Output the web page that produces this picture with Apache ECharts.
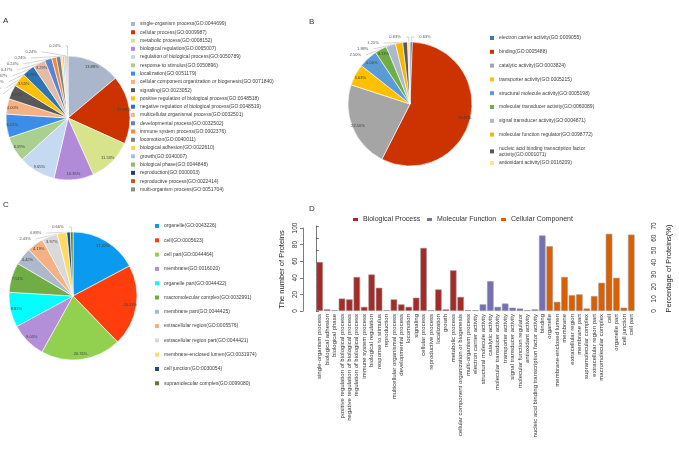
<!DOCTYPE html>
<html><head><meta charset="utf-8">
<script src="https://cdn.jsdelivr.net/npm/echarts@6/dist/echarts.min.js"></script>
<style>html,body{margin:0;padding:0;background:#fff}#c{width:679px;height:452px}</style>
</head><body><div id="c"></div>
<script>
const FONT = '"Liberation Sans", Arial, sans-serif';

// ---- Panel A: Biological Process pie ----
const pieANames = [
  'single-organism process(GO:0044699)','cellular process(GO:0009987)','metabolic process(GO:0008152)',
  'biological regulation(GO:0065007)','regulation of biological process(GO:0050789)','response to stimulus(GO:0050896)',
  'localization(GO:0051179)','cellular component organization or biogenesis(GO:0071840)','signaling(GO:0023052)',
  'positive regulation of biological process(GO:0048518)','negative regulation of biological process(GO:0048519)',
  'multicellular organismal process(GO:0032501)','developmental process(GO:0032502)','immune system process(GO:0002376)',
  'locomotion(GO:0040011)','biological adhesion(GO:0022610)','growth(GO:0040007)','biological phase(GO:0044848)',
  'reproduction(GO:0000003)','reproductive process(GO:0022414)','multi-organism process(GO:0051704)'];
const pieACounts = [59,76,49,44,41,28,26,17,16,15,14,14,8,5,5,2,2,1,1,1,1];

// ---- Panel B: Molecular Function pie ----
const pieBNames = [
  'electron carrier activity(GO:0009055)','binding(GO:0005488)','catalytic activity(GO:0003824)',
  'transporter activity(GO:0005215)','structural molecule activity(GO:0005198)','molecular transducer activity(GO:0060089)',
  'signal transducer activity(GO:0004871)','molecular function regulator(GO:0098772)',
  'nucleic acid binding transcription factor activity(GO:0001071)','antioxidant activity(GO:0016209)'];
const pieBCounts = [1,91,36,9,8,5,4,3,2,1];

// ---- Panel C: Cellular Component pie ----
const pieCNames = [
  'organelle(GO:0043226)','cell(GO:0005623)','cell part(GO:0044464)','membrane(GO:0016020)',
  'organelle part(GO:0044422)','macromolecular complex(GO:0032991)','membrane part(GO:0044425)',
  'extracellular region(GO:0005576)','extracellular region part(GO:0044421)','membrane-enclosed lumen(GO:0031974)',
  'cell junction(GO:0030054)','supramolecular complex(GO:0099080)'];
const pieCCounts = [78,93,92,41,40,34,20,19,18,11,4,3];

// ---- Panel D: bar chart ----
const bpCategories = ['single-organism process','biological adhesion','biological phase',
  'positive regulation of biological process','negative regulation of biological process',
  'regulation of biological process','immune system process','biological regulation','response to stimulus',
  'reproduction','multicellular organismal process','developmental process','locomotion','signaling',
  'cellular process','reproductive process','localization','growth','metabolic process',
  'cellular component organization or biogenesis','multi-organism process'];
const bpCounts = [59,2,1,15,14,41,5,44,28,1,14,8,5,16,76,1,26,2,49,17,1];
const mfCategories = ['electron carrier activity','structural molecule activity','catalytic activity',
  'molecular transducer activity','transporter activity','signal transducer activity',
  'molecular function regulator','antioxidant activity','nucleic acid binding transcription factor activity','binding'];
const mfCounts = [1,8,36,5,9,4,3,1,2,91];
const ccCategories = ['organelle','membrane-enclosed lumen','membrane','extracellular region','membrane part',
  'supramolecular complex','extracellular region part','macromolecular complex','cell','organelle part',
  'cell junction','cell part'];
const ccCounts = [78,11,41,19,20,3,18,34,93,40,4,92];
const leftTicks = {min:0, max:100, interval:20};
const rightTicks = {min:0, max:70, interval:10};

// ---- styles ----
const colorsA = ['#A9B6CB','#CC3300','#D8E48C','#B28BD8','#C5D9F0','#A9D08E','#3C8DEA','#F4B183','#595959',
  '#FFC000','#2E75B6','#E4BBA6','#5A84D1','#F08A3F','#7F7F7F','#FFD24D','#9DC3E6','#8DBA62','#1F3C78','#C65A1C','#8C8C8C'];
const colorsB = ['#4472C4','#CC3300','#A5A5A5','#FFC000','#5B9BD5','#70AD47','#ADB9CA','#F2B700','#595959','#FFE38A'];
const colorsC = ['#0A9BF0','#FF3D0D','#92D050','#B48FD9','#00FFFF','#70AD47','#ADB9CA','#F4B183','#D9D9D9','#FFD966','#1F4E79','#548235'];
const barColors = ['#A52A2A','#7570B3','#D95F02'];

function pieSeries(key, names, counts, colors, center, r, insideMin, len, len2) {
  const total = counts.reduce((a,b)=>a+b,0);
  const fmt = p => (p.value/total*100).toFixed(2) + '%';
  const main = {type:'pie', center, radius:[0,r], startAngle:90, silent:true,
    label:{show:false}, labelLine:{show:false},
    itemStyle:{borderColor:'#fff', borderWidth:0.6},
    data: names.map((n,i)=>({name:n, value:counts[i], itemStyle:{color:colors[i]}}))};
  const ghost = {type:'pie', center, radius:[r*0.72, r], startAngle:90, silent:true,
    itemStyle:{color:'rgba(0,0,0,0)', borderWidth:0},
    label:{show:true, position:'inside', formatter:fmt, fontSize:4, color:'#404040', fontFamily:FONT, overflow:'none'},
    labelLine:{show:false},
    data: counts.map((v,i)=>{
      const d = {name:key+i, value:v};
      if (v < insideMin) {
        d.label = {position:'outside', color:'#555', overflow:'none'};
        d.labelLine = {show:true, length:len, length2:len2, lineStyle:{color:'#aaa', width:0.5}};
      }
      return d;
    })};
  return [main, ghost];
}

const allCats = bpCategories.concat(mfCategories, ccCategories);
function pad(arr, before, after) {
  return Array(before).fill('-').concat(arr, Array(after).fill('-'));
}
const nB = bpCounts.length, nM = mfCounts.length, nC = ccCounts.length;
const barData = [
  pad(bpCounts, 0, nM+nC), pad(mfCounts, nB, nC), pad(ccCounts, nB+nM, 0)];
const barNames = ['Biological Process','Molecular Function','Cellular Component'];

function vLegend(names, left, top, gap, fmt) {
  return {orient:'vertical', left, top, padding:0, itemWidth:4, itemHeight:4, itemGap:gap, icon:'rect',
    selectedMode:false, data:names, formatter: fmt || (n=>n),
    itemStyle:{borderWidth:0},
    textStyle:{fontSize:5, lineHeight:6, color:'#404040', fontFamily:FONT}};
}
function barLegend(name, left) {
  return {orient:'horizontal', left, top:216, padding:0, itemWidth:5, itemHeight:3, icon:'rect',
    selectedMode:false, data:[name], itemStyle:{borderWidth:0},
    textStyle:{fontSize:7, color:'#333', fontFamily:FONT}};
}

const axisCol = '#444';
const option = {
  animation:false,
  backgroundColor:'#fff',
  textStyle:{fontFamily:FONT},
  title:[
    {text:'A', left:3, top:17, padding:0, textStyle:{fontSize:8, fontWeight:'normal', color:'#333'}},
    {text:'B', left:309, top:18, padding:0, textStyle:{fontSize:8, fontWeight:'normal', color:'#333'}},
    {text:'C', left:3, top:201, padding:0, textStyle:{fontSize:8, fontWeight:'normal', color:'#333'}},
    {text:'D', left:309, top:205, padding:0, textStyle:{fontSize:8, fontWeight:'normal', color:'#333'}}
  ],
  legend:[
    vLegend(pieANames, 131, 21, 2.27),
    vLegend(pieBNames.slice(0,9), 490, 35, 7.8, n => n.indexOf('nucleic')===0 ? 'nucleic acid binding transcription factor\nactivity(GO:0001071)' : n),
    vLegend(pieBNames.slice(9), 490, 160, 7.8),
    vLegend(pieCNames, 155, 223, 8.3),
    barLegend(barNames[0], 353),
    barLegend(barNames[1], 427),
    barLegend(barNames[2], 501)
  ],
  grid:[
    {left:316, top:228, width:319, height:83},
    {left:316, top:226, width:319, height:85}
  ],
  xAxis:[
    {gridIndex:0, type:'category', data:allCats, axisLine:{show:false}, axisTick:{show:false},
     axisLabel:{interval:0, rotate:90, fontSize:6, color:'#333', margin:3, fontFamily:FONT}},
    {gridIndex:1, type:'value', min:0, max:1, show:false}
  ],
  yAxis:[
    {gridIndex:0, type:'value', min:leftTicks.min, max:leftTicks.max, interval:leftTicks.interval, offset:13,
     axisLine:{show:true, lineStyle:{color:axisCol, width:0.7}},
     axisTick:{show:true, length:3, lineStyle:{color:axisCol, width:0.7}},
     splitLine:{show:false},
     axisLabel:{rotate:90, fontSize:6.5, color:'#333', margin:4, fontFamily:FONT},
     name:'The number of Proteins', nameLocation:'middle', nameGap:17,
     nameTextStyle:{fontSize:7.5, color:'#222', fontFamily:FONT}},
    {gridIndex:1, type:'value', position:'right', min:rightTicks.min, max:rightTicks.max, interval:rightTicks.interval, offset:12,
     axisLine:{show:true, lineStyle:{color:axisCol, width:0.7}},
     axisTick:{show:true, length:3, lineStyle:{color:axisCol, width:0.7}},
     splitLine:{show:false},
     axisLabel:{rotate:90, fontSize:6.5, color:'#333', margin:4, fontFamily:FONT},
     name:'Percentage of Proteins(%)', nameLocation:'middle', nameGap:18,
     nameTextStyle:{fontSize:7.5, color:'#222', fontFamily:FONT}}
  ],
  series: [].concat(
    pieSeries('a', pieANames, pieACounts, colorsA, [68,118], 62, 14, 10, 2),
    pieSeries('b', pieBNames, pieBCounts, colorsB, [410,104], 62, 5, 5, 3),
    pieSeries('c', pieCNames, pieCCounts, colorsC, [73,296], 64, 18, 5, 3),
    barNames.map((n,k)=>({type:'bar', name:n, xAxisIndex:0, yAxisIndex:0, stack:'all', barCategoryGap:'12%',
      data:barData[k], itemStyle:{color:barColors[k], borderColor:'#9a9a9a', borderWidth:0.6}}))
  )
};
const chart = echarts.init(document.getElementById('c'), null, {renderer:'canvas'});
chart.setOption(option);
</script></body></html>
